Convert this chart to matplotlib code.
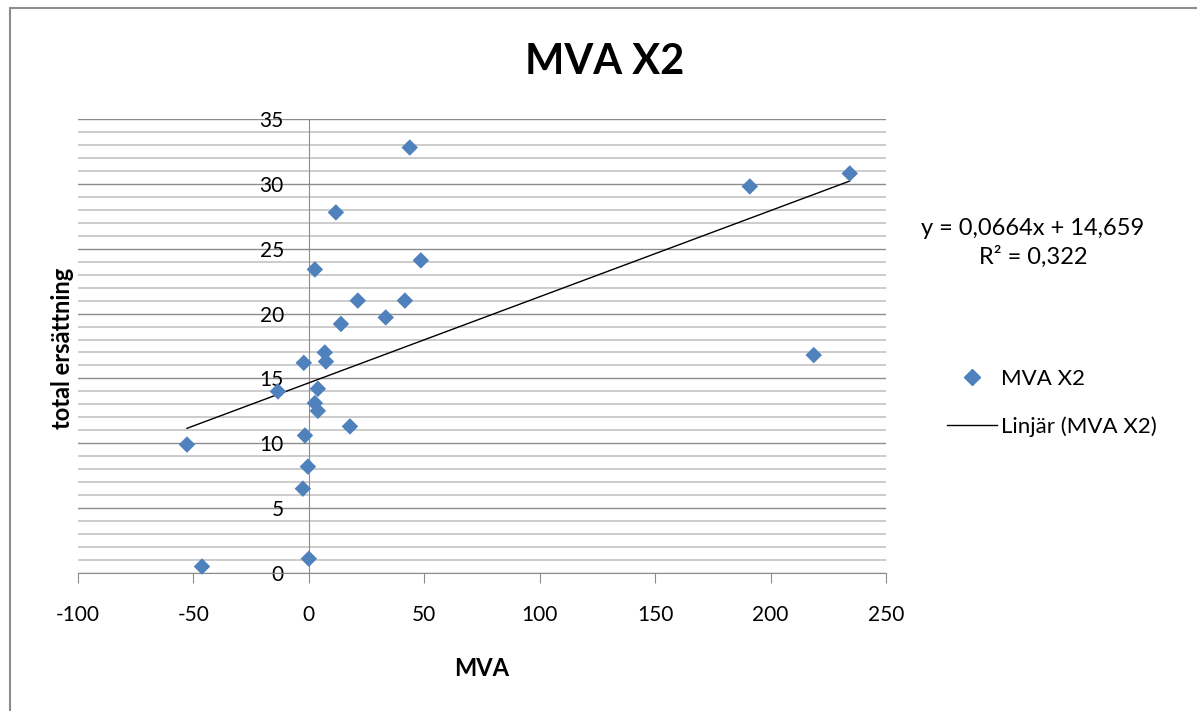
import matplotlib
matplotlib.use('Agg')
import matplotlib.pyplot as plt
from matplotlib.lines import Line2D
from matplotlib.patches import Rectangle
from matplotlib.ticker import MultipleLocator
import numpy as np

plt.rcParams['font.family'] = ['Lato', 'DejaVu Sans']
plt.rcParams['axes.unicode_minus'] = False

# data
mva = [43.7, 191.0, 234.3, 11.7, 2.6, 48.5, 21.2, 41.6, 13.9, 33.3,
       6.9, 7.4, -2.2, 218.7, -13.4, 3.9, 2.6, 3.9, 17.8, -52.8,
       -1.7, -0.4, -2.6, 0.0, -46.3]
ersattning = [32.8, 29.8, 30.8, 27.8, 23.4, 24.1, 21.0, 21.0, 19.2, 19.7,
              17.0, 16.3, 16.2, 16.8, 14.0, 14.2, 13.1, 12.5, 11.3, 9.9,
              10.6, 8.2, 6.5, 1.1, 0.5]

# linear trend as printed in the chart
slope = 0.0664
intercept = 14.659
eq_lines = ['y = 0,0664x + 14,659', 'R² = 0,322']

series_name = 'MVA X2'
trend_name = 'Linjär (MVA X2)'
blue = '#4F81BD'

fig = plt.figure(figsize=(11.97, 7.11), dpi=100)
ax = fig.add_axes([78 / 1197, 1 - 573 / 711, 808 / 1197, 454 / 711])

# outer chart border
fig.patches.append(Rectangle((10 / 1197, -0.1), 1.2, 1 - 8 / 711 + 0.1,
                             transform=fig.transFigure, fill=False,
                             edgecolor='#8c8c8c', linewidth=1.5))

ax.set_xlim(-100, 250)
ax.set_ylim(0, 35)
ax.xaxis.set_major_locator(MultipleLocator(50))
ax.yaxis.set_major_locator(MultipleLocator(5))
ax.yaxis.set_minor_locator(MultipleLocator(1))

# gridlines: light minor every 1, darker major every 5
ax.grid(which='minor', axis='y', color='#c8c8c8', linewidth=1.3)
ax.grid(which='major', axis='y', color='#8c8c8c', linewidth=1.0)
ax.grid(False, axis='x')
ax.set_axisbelow(True)

for s in ['top', 'right']:
    ax.spines[s].set_visible(False)
ax.spines['left'].set_position(('data', 0))
ax.spines['left'].set_color('#8c8c8c')
ax.spines['bottom'].set_color('#8c8c8c')

ax.tick_params(axis='y', which='both', length=0, pad=18, labelsize=15)
ax.tick_params(axis='x', which='major', direction='out', length=7,
               color='#8c8c8c', pad=16, labelsize=15)

xs = np.array([min(mva), max(mva)])
ax.plot(xs, slope * xs + intercept, color='black', linewidth=1.0, zorder=3)
ax.scatter(mva, ersattning, marker='D', s=8.4 ** 2, color=blue,
           edgecolors='none', zorder=4, clip_on=False)

fig.text(605 / 1197, 1 - 62 / 711, series_name, ha='center', va='center',
         fontsize=30, fontweight='bold')
fig.text(482 / 1197, 1 - 668 / 711, 'MVA', ha='center', va='center',
         fontsize=17, fontweight='bold')
fig.text(62 / 1197, 1 - 348 / 711, 'total ersättning', rotation=90,
         ha='center', va='center', fontsize=17, fontweight='bold')

fig.text(1033 / 1197, 1 - 228 / 711, eq_lines[0], ha='center', va='center',
         fontsize=17)
fig.text(1033 / 1197, 1 - 257 / 711, eq_lines[1], ha='center', va='center',
         fontsize=17)

handles = [Line2D([], [], marker='D', linestyle='none', color=blue,
                  markersize=8.4),
           Line2D([], [], color='black', linewidth=1.0)]
fig.legend(handles, [series_name, trend_name], loc='center left',
           bbox_to_anchor=(927 / 1197, 1 - 403 / 711), frameon=False,
           fontsize=16, handlelength=2.25, handletextpad=0.2,
           labelspacing=1.25)

fig.savefig('out.png', dpi=100)
